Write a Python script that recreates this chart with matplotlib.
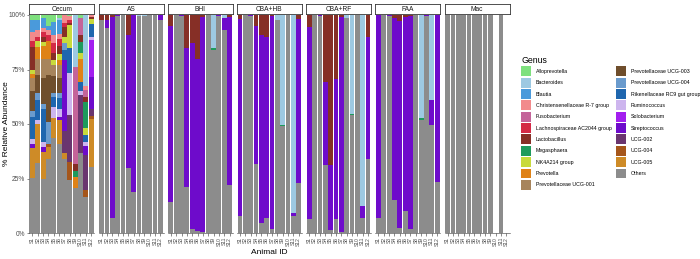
import numpy as np
import matplotlib
matplotlib.use("Agg")
import matplotlib.pyplot as plt
from matplotlib.patches import Patch

plt.rcParams['font.family'] = ['Liberation Sans', 'DejaVu Sans']

genera = ["Alloprevotella", "Bacteroides", "Blautia", "Christensenellaceae R-7 group",
          "Fusobacterium", "Lachnospiraceae AC2044 group", "Lactobacillus", "Megasphaera",
          "NK4A214 group", "Prevotella", "Prevotellaceae UCG-001", "Prevotellaceae UCG-003",
          "Prevotellaceae UCG-004", "Rikenellaceae RC9 gut group", "Ruminococcus",
          "Solobacterium", "Streptococcus", "UCG-002", "UCG-004", "UCG-005", "Others"]
genus_colors = ["#7EE07E", "#9DC9E2", "#4A9ADB", "#F28A8C", "#C4649A", "#D42A45", "#862F26",
                "#1E9A5C", "#C8DA3C", "#DF8217", "#A7845C", "#6F4E2C", "#6A9BCD", "#1F66AE",
                "#CDB5EE", "#A31FEF", "#6E0BCB", "#6A356F", "#A5561B", "#CE8B27", "#8C8C8C"]

facets = ["Cecum", "AS", "BHI", "CBA+HB", "CBA+RF", "FAA", "Mac"]
animals = ["S1", "S2", "S3", "S4", "S5", "S6", "S7", "S8", "S9", "S10", "S11", "S12"]

# % relative abundance per genus, one value per animal (S1..S12)
cecum = {
    "Others": [25.4, 32, 25, 34, 43.4, 40.7, 34, 24.3, 20.5, 36.8, 16.4, 30.4],
    "UCG-005": [13.6, 18, 12, 5.6, 9.2, 11.3, 2.6, 0, 0, 0, 0, 21.8],
    "UCG-004": [0, 0, 0, 1.4, 0, 0, 0, 8.4, 0, 0, 3.3, 1.6],
    "UCG-002": [0, 0, 0, 0, 0, 0, 10, 21.3, 0, 26.5, 16.1, 3.2],
    "Streptococcus": [2, 0, 2.6, 0, 0, 1, 32.8, 0, 0, 0, 4, 14.7],
    "Solobacterium": [0, 0, 0, 0, 0, 0, 0, 0, 0, 0, 0, 16.8],
    "Ruminococcus": [2, 2, 2, 0, 5.4, 4, 0, 19.3, 0, 1.7, 2, 1.5],
    "Rikenellaceae RC9 gut group": [10, 9, 15.4, 0, 4.5, 5, 4.6, 11.4, 0, 4.4, 3.2, 6],
    "Prevotellaceae UCG-004": [3, 3, 2, 10, 1.5, 2, 3, 0, 0, 0, 0, 0],
    "Prevotellaceae UCG-003": [9, 8.5, 12, 21.5, 8, 7, 0, 0, 0, 0, 0, 0],
    "Prevotellaceae UCG-001": [6, 7.5, 9, 7.5, 5, 6, 0, 0, 0, 0, 0, 0],
    "Prevotella": [2, 5.5, 6, 8, 0, 2.4, 0, 0, 5.3, 10.6, 0, 0],
    "NK4A214 group": [2, 2.5, 1.5, 0, 2.4, 2.6, 3, 10.7, 0, 2.5, 3, 2],
    "Megasphaera": [0, 0, 0, 0, 0, 0, 0, 0, 2.7, 5.3, 12, 0],
    "Lactobacillus": [10.5, 0, 2.5, 0, 3.1, 4, 4.6, 1, 3, 3, 2.5, 1],
    "Lachnospiraceae AC2044 group": [2.5, 2, 2, 3, 4.5, 3, 1.9, 1.5, 0, 0, 0, 0],
    "Fusobacterium": [0, 0, 0, 0, 0, 0, 0, 0, 44.5, 7.7, 3, 0],
    "Christensenellaceae R-7 group": [4.3, 3, 2, 2, 4, 2.5, 3.5, 1.5, 0, 0, 2, 1],
    "Blautia": [5.4, 4.5, 4.5, 2, 6, 6, 0, 0, 0, 0, 0, 0],
    "Bacteroides": [0, 0, 0, 0, 0, 1, 0, 0, 24, 0, 32.5, 0],
    "Alloprevotella": [2.3, 2.5, 1.5, 5, 3, 1.5, 0, 0.6, 0, 1.5, 0, 0],
}
as_media = {
    "Others": [97.5, 94, 7, 99.5, 100, 30, 19, 99.5, 99.5, 100, 100, 97.5],
    "Streptococcus": [0, 3.5, 92, 0.5, 0, 61, 81, 0, 0, 0, 0, 2.5],
    "Lactobacillus": [2.5, 2.5, 1, 0, 0, 9, 0, 0, 0, 0, 0, 0],
    "Bacteroides": [0, 0, 0, 0, 0, 0, 0, 0.5, 0.5, 0, 0, 0],
}
bhi = {
    "Others": [14, 100, 99.5, 21, 2, 1, 0.5, 100, 84, 99.5, 93, 22],
    "Streptococcus": [81, 0, 0.5, 64, 85, 79, 98.5, 0, 0, 0.5, 5.5, 77],
    "Lactobacillus": [5, 0, 0, 15, 13, 20, 1, 0, 0, 0, 0, 1],
    "Megasphaera": [0, 0, 0, 0, 0, 0, 0, 0, 1, 0, 0, 0],
    "Bacteroides": [0, 0, 0, 0, 0, 0, 0, 0, 15, 0, 1.5, 0],
}
cba_hb = {
    "Others": [8, 100, 99.5, 31.5, 4.7, 6.7, 2, 97.7, 49, 100, 7.8, 23],
    "Streptococcus": [90, 0, 0.5, 63.5, 86.3, 83, 97.7, 0, 0, 0, 1.2, 75],
    "Lactobacillus": [2, 0, 0, 5, 9, 10.3, 0.3, 0, 0, 0, 0, 2],
    "Megasphaera": [0, 0, 0, 0, 0, 0, 0, 0, 0.7, 0, 0, 0],
    "Bacteroides": [0, 0, 0, 0, 0, 0, 0, 2.3, 50.3, 0, 91, 0],
}
cba_rf = {
    "Others": [6.4, 100, 99.5, 31, 1.4, 6.3, 0.5, 98.6, 54, 100, 6.7, 33.8],
    "Streptococcus": [88.2, 0, 0.5, 38.4, 29.6, 64.3, 98.5, 0, 0, 0, 5.8, 56],
    "Lactobacillus": [5.4, 0, 0, 30.6, 69, 29.4, 1, 0, 0, 0, 0, 10.2],
    "Megasphaera": [0, 0, 0, 0, 0, 0, 0, 0, 0.6, 0, 0, 0],
    "Bacteroides": [0, 0, 0, 0, 0, 0, 0, 1.4, 45.4, 0, 87.5, 0],
}
faa = {
    "Others": [7, 100, 99.5, 15, 2.1, 10, 1.7, 100, 52, 99.5, 49.5, 23.5],
    "Streptococcus": [93, 0, 0.5, 83.8, 95.1, 89, 97.8, 0, 0, 0.5, 11.5, 76.5],
    "Lactobacillus": [0, 0, 0, 1.2, 2.8, 1, 0.5, 0, 0, 0, 0, 0],
    "Megasphaera": [0, 0, 0, 0, 0, 0, 0, 0, 0.7, 0, 0, 0],
    "Bacteroides": [0, 0, 0, 0, 0, 0, 0, 0, 47.3, 0, 39, 0],
}
mac = {
    "Others": [100, 100, 100, 100, 100, 100, 100, 100, 100, 0, 100, 0],
}
facet_data = [cecum, as_media, bhi, cba_hb, cba_rf, faa, mac]

W, H = 700, 259
fig = plt.figure(figsize=(W / 100, H / 100), dpi=100)

left0, pw, gap = 29.3, 65.0, 4.2
ptop, pbot = 15.0, 233.0
txt = "#4D4D4D"
x = np.arange(len(animals))

for k, (name, data) in enumerate(zip(facets, facet_data)):
    l = left0 + k * (pw + gap)
    ax = fig.add_axes([l / W, (H - pbot) / H, pw / W, (pbot - ptop) / H])
    bottom = np.zeros(len(animals))
    for g, c in zip(genera[::-1], genus_colors[::-1]):
        vals = np.array(data.get(g, [0] * len(animals)), dtype=float)
        if vals.sum() == 0:
            continue
        ax.bar(x, vals, 0.9, bottom=bottom, color=c, linewidth=0)
        bottom += vals
    ax.set_xlim(-0.6, len(animals) - 0.4)
    ax.set_ylim(0, 100)
    ax.set_xticks(x)
    ax.set_xticklabels(animals, rotation=90, fontsize=3.6, color=txt, va='top')
    ax.tick_params(axis='x', length=1.8, width=0.4, color='#333333', pad=1)
    for s in ['top', 'right', 'left']:
        ax.spines[s].set_visible(False)
    ax.spines['bottom'].set_linewidth(0.4)
    ax.spines['bottom'].set_color('#333333')
    if k == 0:
        ax.set_yticks([0, 25, 50, 75, 100])
        ax.set_yticklabels(["0%", "25%", "50%", "75%", "100%"], fontsize=4.8, color=txt)
        ax.tick_params(axis='y', length=1.8, width=0.4, color='#333333', pad=1)
        ax.spines['left'].set_visible(True)
        ax.spines['left'].set_linewidth(0.4)
        ax.spines['left'].set_color('#333333')
    else:
        ax.set_yticks([])
    # facet strip
    sax = fig.add_axes([l / W, (H - 14.2) / H, pw / W, 10.2 / H])
    sax.set_xticks([])
    sax.set_yticks([])
    for s in sax.spines.values():
        s.set_linewidth(0.6)
        s.set_color('#333333')
    sax.text(0.5, 0.5, name, ha='center', va='center', fontsize=4.8, color='#1A1A1A',
             transform=sax.transAxes)

fig.text(7 / W, (H - 124) / H, "% Relative Abundance", rotation=90, ha='center', va='center',
         fontsize=6, color='black')
fig.text((left0 + (7 * pw + 6 * gap) / 2) / W, (H - 252) / H, "Animal ID", ha='center',
         va='center', fontsize=6, color='black')

handles = [Patch(facecolor=c, edgecolor='none') for c in genus_colors]
leg = fig.legend(handles, genera, ncol=2, loc='upper left', bbox_to_anchor=(521 / W, (H - 56) / H),
                 frameon=False, fontsize=3.75, title="Genus", title_fontsize=6.3,
                 handlelength=2.0, handleheight=2.56, labelspacing=0.27, handletextpad=0.9,
                 columnspacing=0.72, borderpad=0, borderaxespad=0, alignment='left')

fig.savefig("out.png", dpi=100)
